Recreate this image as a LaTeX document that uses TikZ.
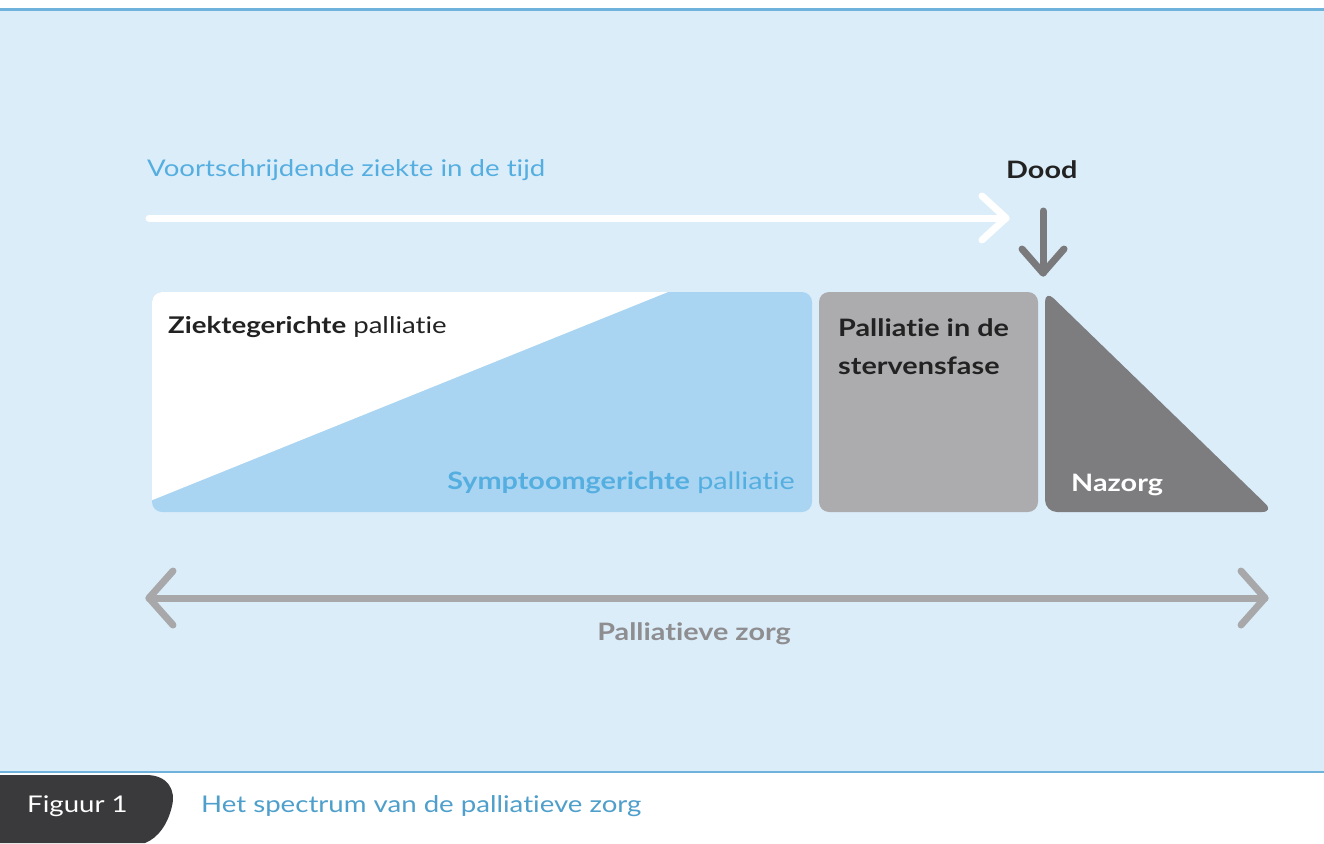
\documentclass[tikz,border=0pt]{standalone}
\usepackage{fontspec}
\setmainfont{Lato}[FakeStretch=1.2,Ligatures=NoCommon]
\begin{document}
\begin{tikzpicture}[x=1pt,y=-1pt,
  lbl/.style={inner sep=0pt,anchor=west},
  chev/.style={line cap=round,line join=round,line width=7pt}]
\definecolor{bgblue}{HTML}{DCEDFA}
\definecolor{topline}{HTML}{6FB3DC}
\definecolor{midblue}{HTML}{A9D5F2}
\definecolor{txtblue}{HTML}{55AEE0}
\definecolor{capblue}{HTML}{4E9FCB}
\definecolor{lgray}{HTML}{ACACAF}
\definecolor{dgray}{HTML}{7D7D80}
\definecolor{agray}{HTML}{A8A8AA}
\definecolor{tgray}{HTML}{8E8E90}
\definecolor{arrgray}{HTML}{7A7A7C}
\definecolor{tab}{HTML}{3A3A3C}
\definecolor{dark}{HTML}{222222}
\useasboundingbox (0,0) rectangle (1324,843);
\fill[white] (0,0) rectangle (1324,843);
% background panel
\fill[bgblue] (0,10) rectangle (1324,772);
\draw[topline,line width=3pt] (0,10) -- (1324,10);
\draw[topline,line width=2pt] (0,772) -- (1324,772);
% caption tab
\fill[tab] (0,775) -- (146,775) .. controls (168,775) and (176,790) .. (172,806) .. controls (168,824) and (158,838) .. (145,843) -- (0,843) -- cycle;
\node[lbl,text=white,font=\fontsize{23}{27}\selectfont] (fig) at (27,806) {Figuur 1};
\node[lbl,text=capblue,font=\fontsize{23}{27}\selectfont] (cap) at (201,806) {Het spectrum van de palliatieve zorg};
% top label and white arrow
\node[lbl,text=txtblue,font=\fontsize{23}{27}\selectfont] (prog) at (147,170) {Voortschrijdende ziekte in de tijd};
\coordinate (wa) at (149,218);
\coordinate (wb) at (1006,218);
\draw[white,chev] (wa) -- (wb);
\draw[white,chev] (wb) ++(-24,-22) -- (wb) -- ++(-24,22);
% Dood
\node[lbl,text=dark,font=\bfseries\fontsize{24}{28}\selectfont] (dood) at (1006,170) {Dood};
\coordinate (da) at (1043,211);
\coordinate (db) at (1043,273);
\draw[arrgray,chev] (da) -- (db);
\draw[arrgray,chev] (db) ++(-21,-24) -- (db) -- ++(21,-24);
% big box
\fill[midblue,rounded corners=10pt] (152,292) rectangle (812,512);
\begin{scope}
\clip[rounded corners=10pt] (152,292) rectangle (812,512);
\fill[white] (150,290) -- (668,290) -- (668,292) -- (150,501) -- cycle;
\end{scope}
\node[lbl,text=dark,font=\fontsize{23}{27}\selectfont] (zg) at (168,327) {\textbf{Ziektegerichte} palliatie};
\node[anchor=east,inner sep=0pt,text=txtblue,font=\fontsize{24}{28}\selectfont] (sg) at (795,483) {\textbf{Symptoomgerichte} palliatie};
% stervensfase box
\fill[lgray,rounded corners=10pt] (819,292) rectangle (1038,512);
\node[anchor=north west,inner sep=0pt,align=left,text=dark,font=\bfseries\fontsize{24}{38}\selectfont] (sf) at (838,318) {Palliatie in de\\stervensfase};
% nazorg triangle
\fill[dgray,rounded corners=12pt] (1045,290) -- (1274,512) -- (1045,512) -- cycle;
\node[lbl,text=white,font=\bfseries\fontsize{24}{28}\selectfont] (nz) at (1071,485) {Nazorg};
% double arrow
\coordinate (pa) at (149,598);
\coordinate (pb) at (1265,598);
\draw[agray,chev] (pa) -- (pb);
\draw[agray,chev] (pa) ++(24,-27) -- (pa) -- ++(24,27);
\draw[agray,chev] (pb) ++(-24,-27) -- (pb) -- ++(-24,27);
\node[anchor=center,inner sep=0pt,text=tgray,font=\bfseries\fontsize{24}{28}\selectfont] (pz) at (694,634) {Palliatieve zorg};
\end{tikzpicture}
\end{document}
